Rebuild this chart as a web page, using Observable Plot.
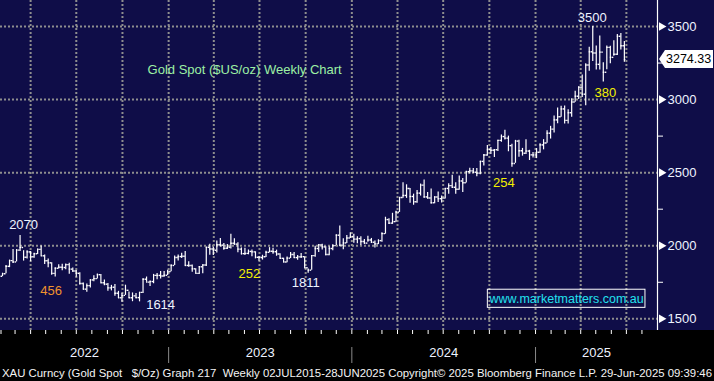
<!DOCTYPE html>
<html>
<head>
<meta charset="utf-8">
<script src="https://cdn.jsdelivr.net/npm/d3@7"></script>
<script src="https://cdn.jsdelivr.net/npm/@observablehq/plot@0.6"></script>
<style>
  html, body { margin: 0; padding: 0; background: #000; }
  #chart svg { display: block; }
  #footer { width: 714px; height: 16px; background: #000; }
</style>
</head>
<body>
<div id="chart"></div>
<div id="footer"></div>
<script>
// ---- Data: Gold spot weekly bars (week ending Friday), Jan 2022 - Jun 2025 ----
const firstWeek = "2022-01-28";

const opens = [
1832,1791,1808,1859,1898,1889,1970,1988,1921,1958,1925,1945,1975,1931,1897,1883,1811,1846,1853,1851,1871,1840,1827,1811,1742,1703,1727,1766,1775,1802,1747,1737,1712,1716,1675,1644,1660,1695,1644,1657,1645,1681,1771,1751,1755,1797,1797,1793,1798,
1824,1865,1920,1926,1928,1865,1865,1842,1811,1856,1868,1989,1978,1969,2007,2004,1983,1990,2017,2011,1977,1946,1948,1961,1958,1921,1919,1925,1955,1962,1959,1943,1914,1889,1915,1940,1919,1924,1925,1849,1833,1932,1981,2006,1992,1940,1981,2001,2072,2004,2019,2053,
2063,2045,2049,2029,2018,2039,2024,2013,2035,2083,2179,2155,2165,2230,2330,2344,2392,2337,2301,2360,2415,2334,2327,2294,2333,2322,2326,2392,2411,2400,2387,2443,2431,2507,2512,2503,2497,2577,2621,2658,2653,2657,2721,2747,2736,2685,2563,2716,2650,2633,2648,2622,
2621,2640,2690,2703,2770,2798,2861,2883,2936,2858,2910,2984,3023,3084,3037,3237,3327,3319,3241,3325,3187,3357,3289,3310,3433,3368
];
const highs = [
1853,1812,1865,1902,1974,1974,2070,1966,1966,1960,1948,1978,1998,1936,1909,1884,1849,1870,1874,1875,1880,1847,1830,1815,1745,1739,1767,1795,1807,1803,1765,1741,1729,1735,1688,1675,1730,1683,1677,1674,1681,1774,1786,1759,1804,1810,1824,1823,1833,
1870,1930,1937,1949,1960,1890,1869,1843,1858,1870,1990,2010,1990,2032,2049,2015,2009,2079,2048,2020,1985,1983,1971,1971,1959,1926,1935,1963,1987,1982,1970,1946,1915,1923,1953,1953,1933,1947,1925,1841,1933,1997,2009,2010,1993,1993,2007,2075,2135,2047,2070,2088,
2078,2062,2061,2042,2065,2050,2032,2041,2088,2195,2185,2222,2236,2330,2431,2417,2392,2353,2378,2422,2450,2364,2388,2335,2368,2340,2392,2424,2483,2431,2477,2460,2509,2531,2528,2529,2578,2625,2685,2672,2658,2722,2758,2790,2750,2694,2721,2721,2666,2726,2653,2638,
2665,2697,2726,2786,2817,2887,2942,2955,2956,2930,3005,3057,3087,3168,3245,3358,3500,3367,3435,3252,3366,3365,3403,3446,3452,3398
];
const lows = [
1780,1788,1808,1850,1878,1889,1960,1895,1910,1890,1915,1940,1930,1872,1850,1798,1786,1840,1828,1835,1805,1818,1785,1732,1697,1681,1711,1754,1773,1745,1727,1688,1691,1654,1640,1614,1660,1640,1617,1638,1616,1674,1750,1721,1740,1767,1773,1784,1797,
1822,1865,1896,1912,1861,1853,1819,1809,1804,1809,1858,1935,1934,1950,1992,1969,1974,1977,2005,1952,1937,1933,1938,1925,1910,1893,1902,1920,1951,1942,1928,1910,1885,1884,1912,1915,1901,1913,1846,1811,1833,1922,1953,1970,1932,1931,1965,2001,1993,1973,2016,2050,
2017,2013,2002,2010,2023,2015,1984,2008,2024,2079,2146,2146,2160,2228,2325,2324,2291,2277,2291,2340,2325,2320,2286,2287,2296,2293,2319,2353,2393,2353,2379,2364,2430,2491,2494,2472,2485,2546,2613,2624,2603,2644,2708,2724,2643,2537,2564,2605,2613,2625,2583,2600,
2596,2632,2656,2701,2730,2772,2834,2880,2833,2833,2880,2981,3000,3015,2957,3194,3260,3202,3203,3121,3205,3245,3296,3302,3340,3255
];
const closes = [
1791,1808,1859,1898,1889,1970,1988,1921,1958,1925,1945,1975,1931,1897,1883,1811,1846,1853,1851,1871,1840,1827,1811,1742,1703,1727,1766,1775,1802,1747,1737,1712,1716,1675,1644,1660,1695,1644,1657,1645,1681,1771,1751,1755,1797,1797,1793,1798,1824,
1865,1920,1926,1928,1865,1865,1842,1811,1856,1868,1989,1978,1969,2007,2004,1983,1990,2017,2011,1977,1946,1948,1961,1958,1921,1919,1925,1955,1962,1959,1943,1914,1889,1915,1940,1919,1924,1925,1849,1833,1932,1981,2006,1992,1940,1981,2001,2072,2004,2019,2053,2063,
2045,2049,2029,2018,2039,2024,2013,2035,2083,2179,2155,2165,2230,2330,2344,2392,2337,2301,2360,2415,2334,2327,2294,2333,2322,2326,2392,2411,2400,2387,2443,2431,2507,2512,2503,2497,2577,2621,2658,2653,2657,2721,2747,2736,2685,2563,2716,2650,2633,2648,2622,2621,
2640,2690,2703,2770,2798,2861,2883,2936,2858,2910,2984,3023,3084,3037,3237,3327,3319,3241,3325,3187,3357,3289,3310,3433,3368,3274.33
];

// axis / scale reference values
const xDomain = ["2022-01-31", "2025-09-01"];
const yDomain = [1420, 3678];
const majorTicks = [1500, 2000, 2500, 3000, 3500];
const minorTicks = [1750, 2250, 2750, 3250];
const yearLabels = ["2022", "2023", "2024", "2025"];
const lastPriceLabel = "3274.33";

// annotations
const annoText  = ["2070", "456", "1614", "252", "1811", "254", "3500", "380"];
const annoDate  = ["2022-03-18", "2022-05-12", "2022-12-16", "2023-06-11", "2023-10-01", "2024-10-30", "2025-04-24", "2025-05-20"];
const annoPrice = [2144, 1692, 1596, 1808, 1747, 2432, 3562, 3048];
const annoColor = ["#eef3ff", "#f0922e", "#eef3ff", "#f2f000", "#eef3ff", "#f2f000", "#eef3ff", "#f2f000"];

const titleText = "Gold Spot ($US/oz) Weekly Chart";
const titleDate = "2022-11-20";
const titlePrice = 3205;

const siteText = "www.marketmatters.com.au";
const siteDate = "2025-03-04";
const sitePrice = 1637;
const siteBox = {x1: "2024-09-28", x2: "2025-08-08", y1: 1575, y2: 1699};

const footerText = "XAU Curncy (Gold Spot   $/Oz) Graph 217  Weekly 02JUL2015-28JUN2025 Copyright\u00a9 2025 Bloomberg Finance L.P. 29-Jun-2025 09:39:46";

// ---- build ----
const parse = d3.utcParse("%Y-%m-%d");
const start = parse(firstWeek);
const weeks = closes.map((c, i) => ({
  date: d3.utcDay.offset(start, 7 * i),
  open: opens[i], high: highs[i], low: lows[i], close: c
}));
const x0 = parse(xDomain[0]), x1 = parse(xDomain[1]);
const quarterStarts = d3.utcMonth.every(3).range(x0, x1);
const monthStarts = d3.utcMonth.range(x0, x1);
const yearStarts = d3.utcYear.range(x0, x1);
const yearMids = yearLabels.map(y => {
  const ys = d3.utcYear(parse(y + "-06-01"));
  const a = new Date(Math.max(+ys, +x0));
  const b = new Date(Math.min(+d3.utcYear.offset(ys, 1), +x1));
  return {label: y, date: new Date((+a + +b) / 2)};
});
const annos = annoText.map((t, i) => ({text: t, date: parse(annoDate[i]), price: annoPrice[i], color: annoColor[i]}));

const W = 714, H = 365, mR = 57, mB = 35;
const navy = "#0f0d48";
const white = "#eef3ff";
const gridStyle = {stroke: "#8e8e8e", strokeOpacity: 1, strokeWidth: 2, strokeDasharray: "2,2"};

const chart = Plot.plot({
  width: W, height: H,
  marginLeft: 0, marginRight: mR, marginTop: 0, marginBottom: mB,
  style: {
    background: `linear-gradient(to bottom, ${navy} 0px, ${navy} ${H - mB}px, #000 ${H - mB}px)`,
    fontFamily: "'Liberation Sans', Arial, sans-serif",
    fontSize: "13px",
    color: white
  },
  x: {type: "utc", domain: [x0, x1], axis: null},
  y: {domain: yDomain, axis: null},
  color: {type: "identity"},
  marks: [
    Plot.gridY({ticks: majorTicks, ...gridStyle}),
    Plot.gridX({ticks: quarterStarts, ...gridStyle}),
    // weekly OHLC bars
    Plot.ruleX(weeks, {x: "date", y1: "low", y2: "high", stroke: "#ffffff", strokeWidth: 1.2, clip: true}),
    Plot.ruleY(weeks, {y: "open", x1: d => d3.utcDay.offset(d.date, -3), x2: "date", stroke: "#ffffff", strokeWidth: 1.4, clip: true}),
    Plot.ruleY(weeks, {y: "close", x1: "date", x2: d => d3.utcDay.offset(d.date, 3), stroke: "#ffffff", strokeWidth: 1.4, clip: true}),
    // annotations
    Plot.text([titleText], {x: () => parse(titleDate), y: () => titlePrice, text: d => d, textAnchor: "start", fill: "#9cf0a4", fontSize: 13}),
    Plot.text(annos, {x: "date", y: "price", text: "text", fill: "color", fontSize: 13}),
    Plot.rect([siteBox], {x1: d => parse(d.x1), x2: d => parse(d.x2), y1: "y1", y2: "y2", fill: "none", stroke: "#ffffff", strokeWidth: 1}),
    Plot.text([siteText], {x: () => parse(siteDate), y: () => sitePrice, text: d => d, fill: "#22e0ee", fontSize: 12.5}),
    // right axis
    Plot.ruleX([x1], {stroke: "#ffffff", strokeWidth: 1.2}),
    Plot.axisY({anchor: "right", ticks: minorTicks, tickSize: 5, tickFormat: () => "", stroke: "#ffffff"}),
    Plot.axisY({anchor: "right", ticks: majorTicks, tickSize: 0, tickPadding: 10, tickFormat: d => String(d), fill: white, fontSize: 13}),
    Plot.dot(majorTicks, {y: d => d, frameAnchor: "right", dx: 4, symbol: "triangle", rotate: 90, r: 3.2, fill: "#ffffff", stroke: "none"}),
    // bottom axis
    Plot.axisX({ticks: monthStarts, tickSize: 4, tickFormat: () => "", stroke: "#ffffff"}),
    Plot.axisX({ticks: yearStarts, tickSize: 16, dy: 17, tickFormat: () => "", stroke: "#8a8a8a"}),
    Plot.text(yearMids, {x: "date", text: "label", frameAnchor: "bottom", dy: 26, fill: white, fontSize: 13})
  ]
});
document.getElementById("chart").appendChild(chart);

// last-price tag on the right axis, positioned with the chart's own y scale
{
  const yc = chart.scale("y").apply(closes[closes.length - 1]);
  const xr = W - mR;
  const g = d3.select(chart).append("g").attr("text-anchor", "start");
  g.append("polygon")
    .attr("points", [[xr + 2, yc], [xr + 8, yc - 9], [W - 1, yc - 9], [W - 1, yc + 9], [xr + 8, yc + 9]].map(p => p.join(",")).join(" "))
    .attr("fill", "#ffffff").attr("stroke", "none");
  g.append("text")
    .attr("x", xr + 9).attr("y", yc).attr("dy", "0.36em")
    .attr("text-anchor", "start")
    .attr("fill", "#000000").attr("font-size", 12.5)
    .text(lastPriceLabel);
}

// footer caption
const foot = d3.select("#footer").append("svg").attr("width", W).attr("height", 16);
foot.append("text")
  .attr("x", 2).attr("y", 12)
  .attr("textLength", W - 4).attr("lengthAdjust", "spacingAndGlyphs")
  .attr("fill", "#f4f4f4")
  .attr("font-family", "'Liberation Sans', Arial, sans-serif")
  .attr("font-size", 11.4)
  .style("white-space", "pre")
  .text(footerText);
</script>
</body>
</html>
